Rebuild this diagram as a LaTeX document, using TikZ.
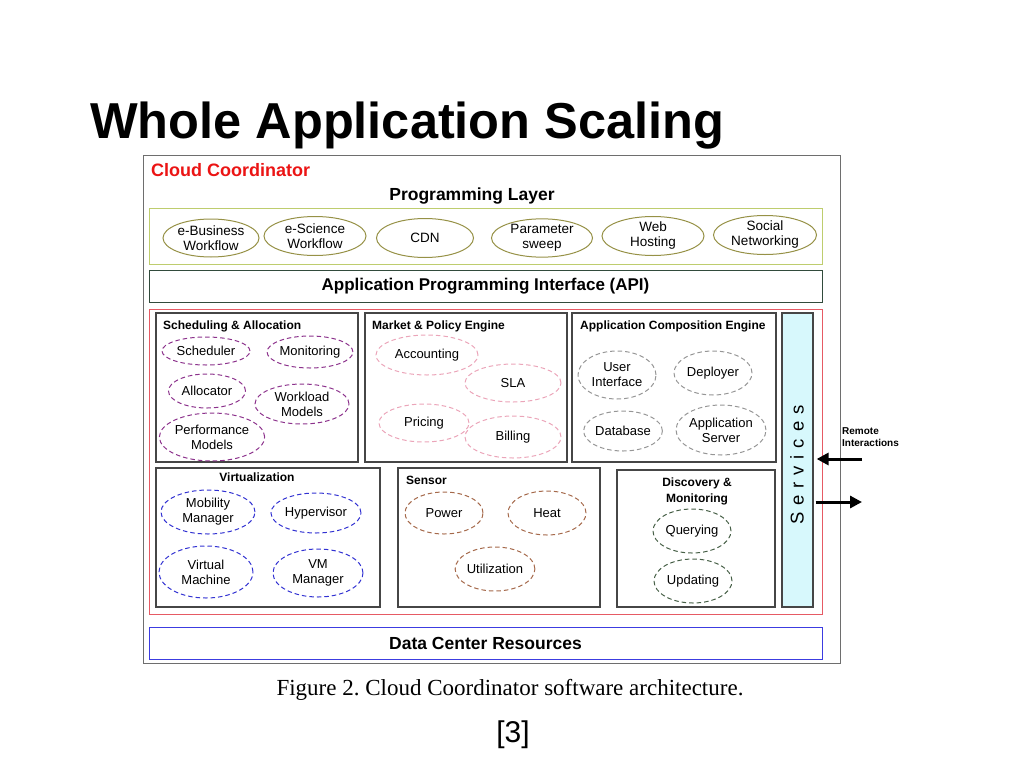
\documentclass[tikz,border=0pt]{standalone}
\usepackage{fontspec}
\setmainfont{Liberation Sans}
\newfontfamily\capfont{Liberation Serif}
\usepackage{tikz}
\definecolor{framegray}{RGB}{110, 110, 110}
\definecolor{boxgray}{RGB}{70, 70, 70}
\definecolor{olivebox}{RGB}{190, 205, 110}
\definecolor{oliveitem}{RGB}{150, 145, 70}
\definecolor{apigreen}{RGB}{50, 75, 60}
\definecolor{coordred}{RGB}{235, 20, 20}
\definecolor{layerred}{RGB}{230, 90, 100}
\definecolor{schedpurple}{RGB}{140, 50, 140}
\definecolor{marketpink}{RGB}{235, 165, 185}
\definecolor{compgray}{RGB}{150, 150, 150}
\definecolor{virtblue}{RGB}{50, 50, 210}
\definecolor{sensorbrown}{RGB}{165, 105, 75}
\definecolor{discgreen}{RGB}{70, 95, 70}
\definecolor{servcyan}{RGB}{215, 248, 252}
\definecolor{dcblue}{RGB}{60, 60, 225}
\usetikzlibrary{shapes.geometric, arrows.meta, positioning}

\begin{document}
\frenchspacing
\begin{tikzpicture}[
    x=1pt, y=-1pt,
    layerbox/.style={rectangle, draw, line width=1pt, inner sep=0pt},
    groupbox/.style={rectangle, draw=boxgray, line width=1.2pt, inner sep=0pt},
    grouptitle/.style={font=\fontsize{12}{14}\selectfont\bfseries, inner sep=0pt},
    progitem/.style={ellipse, draw=oliveitem, line width=1pt, inner sep=0pt, align=center, font=\fontsize{13.5}{15}\selectfont},
    item/.style={ellipse, dash pattern=on 4.5pt off 3pt, line width=1pt, inner sep=0pt, align=center, font=\fontsize{13}{15}\selectfont},
    arrow/.style={-{Triangle[length=12pt, width=12pt]}, line width=3pt, black}
]
    \useasboundingbox (0,0) rectangle (1024,768);

    \node[anchor=base west, inner sep=0pt, font=\fontsize{50.5}{56}\selectfont\bfseries] (title) at (90,138) {Whole Application Scaling};

    \node[rectangle, draw=framegray, line width=1pt, minimum width=697pt, minimum height=508pt] (frame) at (491.5,409) {};
    \node[anchor=base west, inner sep=0pt, text=coordred, font=\fontsize{18}{20}\selectfont\bfseries] (coord) at (151,176) {Cloud Coordinator};

    \node[anchor=base, inner sep=0pt, font=\fontsize{17.5}{20}\selectfont\bfseries] (proglabel) at (472,200) {Programming Layer};
    \node[layerbox, draw=olivebox, minimum width=673pt, minimum height=56pt] (prog) at (485.5,236) {};
    \node[progitem, minimum width=96pt, minimum height=38pt] (ebiz) at (211,238) {e-Business\\Workflow};
    \node[progitem, minimum width=102pt, minimum height=39pt] (esci) at (315,236) {e-Science\\Workflow};
    \node[progitem, minimum width=97pt, minimum height=39pt] (cdn) at (425,238) {CDN};
    \node[progitem, minimum width=101pt, minimum height=38pt] (param) at (542,238) {Parameter\\sweep};
    \node[progitem, minimum width=102pt, minimum height=38pt] (web) at (653,236) {Web\\Hosting};
    \node[progitem, minimum width=103pt, minimum height=38pt] (social) at (765,235) {Social\\Networking};

    \node[layerbox, draw=apigreen, minimum width=673pt, minimum height=32pt, font=\fontsize{17}{20}\selectfont\bfseries] (api) at (485.5,286) {Application Programming Interface (API)};

    \node[layerbox, draw=layerred, minimum width=673pt, minimum height=305pt] (middle) at (485.5,461.5) {};

    \node[groupbox, minimum width=202pt, minimum height=149pt] (sched) at (257,387.5) {};
    \node[grouptitle, anchor=base west] (schedtitle) at (163,329) {Scheduling \& Allocation};
    \node[item, draw=schedpurple, minimum width=88pt, minimum height=28pt] (scheduler) at (206,351) {Scheduler};
    \node[item, draw=schedpurple, minimum width=76pt, minimum height=32pt] (monitor) at (310,352) {Monitoring};
    \node[item, draw=schedpurple, minimum width=77pt, minimum height=34pt] (alloc) at (207,391) {Allocator};
    \node[item, draw=schedpurple, minimum width=94pt, minimum height=40pt] (workload) at (302,404) {Workload\\Models};
    \node[item, draw=schedpurple, minimum width=88pt, minimum height=48pt] (perf) at (212,437) {Performance\\Models};

    \node[groupbox, minimum width=202pt, minimum height=149pt] (market) at (466,387.5) {};
    \node[grouptitle, anchor=base west] (markettitle) at (372,329) {Market \& Policy Engine};
    \node[item, draw=marketpink, minimum width=102pt, minimum height=40pt] (account) at (427,355) {Accounting};
    \node[item, draw=marketpink, minimum width=96pt, minimum height=38pt] (sla) at (513,383) {SLA};
    \node[item, draw=marketpink, minimum width=90pt, minimum height=38pt] (pricing) at (424,423) {Pricing};
    \node[item, draw=marketpink, minimum width=96pt, minimum height=42pt] (billing) at (513,437) {Billing};

    \node[groupbox, minimum width=204pt, minimum height=149pt] (comp) at (674,387.5) {};
    \node[grouptitle, anchor=base west] (comptitle) at (580,329) {Application Composition Engine};
    \node[item, draw=compgray, minimum width=78pt, minimum height=48pt] (ui) at (617,375) {User\\Interface};
    \node[item, draw=compgray, minimum width=78pt, minimum height=44pt] (deploy) at (713,373) {Deployer};
    \node[item, draw=compgray, minimum width=76pt, minimum height=40pt] (db) at (623,431) {Database};
    \node[item, draw=compgray, minimum width=78pt, minimum height=50pt] (appserver) at (721,430) {Application\\Server};

    \node[groupbox, fill=servcyan, minimum width=31pt, minimum height=294pt] (services) at (797.5,460) {};
    \node[rotate=90, inner sep=0pt, font=\fontsize{18.5}{20}\selectfont\addfontfeatures{LetterSpace=37}] (servlabel) at (797,465) {Services};

    \node[groupbox, minimum width=224pt, minimum height=139pt] (virt) at (268,537.5) {};
    \node[grouptitle, anchor=base] (virttitle) at (257,481) {Virtualization};
    \node[item, draw=virtblue, minimum width=94pt, minimum height=44pt] (mobility) at (208,512) {Mobility\\Manager};
    \node[item, draw=virtblue, minimum width=90pt, minimum height=40pt] (hyper) at (316,513) {Hypervisor};
    \node[item, draw=virtblue, minimum width=94pt, minimum height=52pt] (vm) at (206,572) {Virtual\\Machine};
    \node[item, draw=virtblue, minimum width=90pt, minimum height=48pt] (vmman) at (318,573) {VM\\Manager};

    \node[groupbox, minimum width=202pt, minimum height=139pt] (sensor) at (499,537.5) {};
    \node[grouptitle, anchor=base west] (sensortitle) at (406,484) {Sensor};
    \node[item, draw=sensorbrown, minimum width=78pt, minimum height=42pt] (power) at (444,513) {Power};
    \node[item, draw=sensorbrown, minimum width=78pt, minimum height=44pt] (heat) at (547,513) {Heat};
    \node[item, draw=sensorbrown, minimum width=78pt, minimum height=44pt] (util) at (495,569) {Utilization};

    \node[groupbox, minimum width=158pt, minimum height=137pt] (disc) at (696,538.5) {};
    \node[grouptitle, align=center, font=\fontsize{12}{16}\selectfont\bfseries] (disctitle) at (697,491) {Discovery \&\\Monitoring};
    \node[item, draw=discgreen, minimum width=78pt, minimum height=44pt] (query) at (692,531) {Querying};
    \node[item, draw=discgreen, minimum width=78pt, minimum height=44pt] (update) at (693,581) {Updating};

    \node[layerbox, draw=dcblue, minimum width=673pt, minimum height=32pt, font=\fontsize{17.5}{20}\selectfont\bfseries] (dc) at (485.5,643) {Data Center Resources};

    \node[anchor=north west, inner sep=0pt, align=left, font=\fontsize{10}{12}\selectfont\bfseries] (remote) at (842,427) {Remote\\Interactions};
    \coordinate (remin) at (862,459);
    \coordinate (remout) at (862,502);
    \draw[arrow, shorten >=3pt] (remin) -- (remin -| services.east);
    \draw[arrow, shorten <=2pt] (remout -| services.east) -- (remout);

    \node[anchor=base, inner sep=0pt, font=\capfont\fontsize{23}{26}\selectfont] (caption) at (510,695) {Figure 2. Cloud Coordinator software architecture.};
    \node[anchor=base, inner sep=0pt, font=\fontsize{30}{34}\selectfont] (ref) at (513,742) {[3]};
\end{tikzpicture}
\end{document}
